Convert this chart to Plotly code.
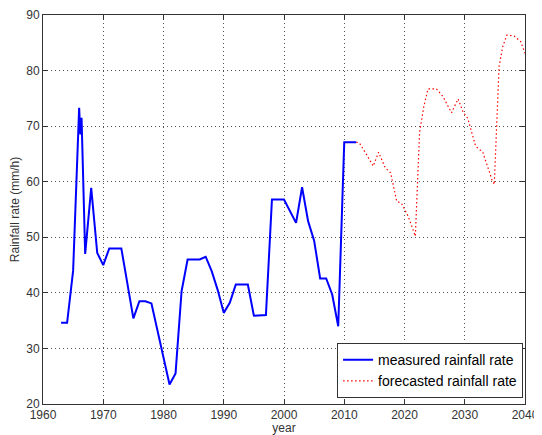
import plotly.graph_objects as go

measured_years = [1963, 1964, 1965, 1966, 1966.2, 1966.4, 1967, 1968, 1969, 1970, 1971, 1973,
                  1975, 1976, 1977, 1978, 1981, 1982, 1983, 1984, 1986, 1987, 1988, 1989,
                  1990, 1991, 1992, 1994, 1995, 1997, 1998, 2000, 2002, 2003, 2004, 2005,
                  2006, 2007, 2008, 2009, 2010, 2012]
measured_rate = [34.6, 34.6, 44.0, 73.3, 68.5, 71.5, 47.0, 58.9, 47.2, 45.0, 48.0, 48.0,
                 35.4, 38.5, 38.5, 38.1, 23.5, 25.5, 40.3, 46.0, 46.0, 46.5, 43.9, 40.5,
                 36.4, 38.2, 41.5, 41.5, 35.9, 36.0, 56.8, 56.8, 52.6, 59.0, 52.9, 49.4,
                 42.6, 42.6, 39.7, 34.0, 67.1, 67.1]

forecast_years = [2012, 2012.5, 2013.8, 2014.8, 2015.7, 2016.8, 2017.7, 2018.7, 2019.5, 2020.6,
                  2021.8, 2022.5, 2023.2, 2023.9, 2025.3, 2026.4, 2027.8, 2028.9, 2029.7, 2030.5,
                  2031.8, 2033.0, 2034.5, 2034.9, 2035.7, 2036.3, 2037.0, 2038.2, 2039.3, 2040]
forecast_rate = [67.1, 67.0, 64.7, 62.8, 65.3, 62.5, 61.6, 56.5, 56.1, 53.8,
                 50.2, 68.8, 73.5, 76.7, 76.7, 75.3, 72.4, 74.9, 72.6, 71.4,
                 66.4, 65.3, 60.4, 59.5, 80.7, 84.3, 86.4, 86.2, 85.2, 83.1]

x_ticks = [1960, 1970, 1980, 1990, 2000, 2010, 2020, 2030, 2040]
y_ticks = [20, 30, 40, 50, 60, 70, 80, 90]

FONT = "Liberation Sans, Arial, sans-serif"

fig = go.Figure()
fig.add_trace(go.Scatter(x=measured_years, y=measured_rate, mode="lines",
                         name="measured rainfall rate",
                         line=dict(color="#0000ff", width=2)))
fig.add_trace(go.Scatter(x=forecast_years, y=forecast_rate, mode="lines",
                         name="forecasted rainfall rate",
                         line=dict(color="#ff0000", width=1.2, dash="1.5px,2.5px")))

axis_common = dict(showline=True, linecolor="#333333", linewidth=1, mirror="allticks",
                   ticks="inside", ticklen=5, tickcolor="#333333",
                   showgrid=True, gridcolor="#555555", gridwidth=1, griddash="1px,3px",
                   zeroline=False, automargin=False, ticklabeloverflow="allow",
                   tickfont=dict(family=FONT, size=12, color="#333333"))

fig.update_xaxes(range=[1960, 2040], tickvals=x_ticks, ticktext=[str(v) for v in x_ticks],
                 title=dict(text="year", font=dict(family=FONT, size=12, color="#333333"), standoff=0),
                 **axis_common)
fig.update_yaxes(range=[20, 90], tickvals=y_ticks, ticktext=[str(v) for v in y_ticks],
                 title=dict(text="Rainfall rate (mm/h)", font=dict(family=FONT, size=12, color="#333333"), standoff=6),
                 **axis_common)

fig.update_layout(
    width=534, height=427,
    margin=dict(l=35, r=17, t=7, b=31, autoexpand=False),
    paper_bgcolor="white", plot_bgcolor="white",
    showlegend=True,
    legend=dict(x=0.996, y=0.015, xanchor="right", yanchor="bottom",
                bgcolor="white", bordercolor="#333333", borderwidth=1,
                font=dict(family=FONT, size=14, color="black"),
                tracegroupgap=0, itemwidth=30),
)

fig.write_html("out.html")
